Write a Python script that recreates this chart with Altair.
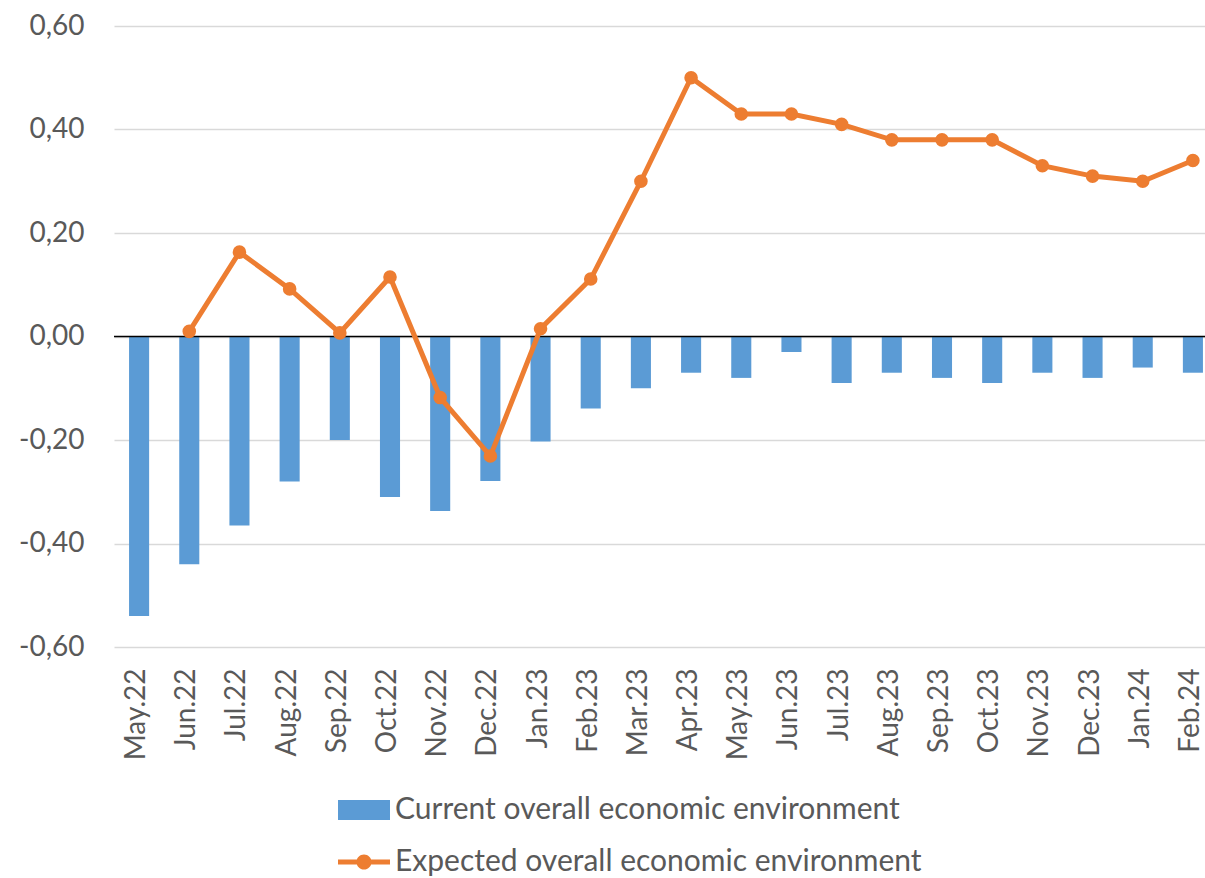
import altair as alt
import pandas as pd

months = ["May.22", "Jun.22", "Jul.22", "Aug.22", "Sep.22", "Oct.22", "Nov.22", "Dec.22",
          "Jan.23", "Feb.23", "Mar.23", "Apr.23", "May.23", "Jun.23", "Jul.23", "Aug.23",
          "Sep.23", "Oct.23", "Nov.23", "Dec.23", "Jan.24", "Feb.24"]
current = [-0.54, -0.44, -0.365, -0.28, -0.20, -0.31, -0.337, -0.279, -0.203, -0.139,
           -0.10, -0.07, -0.08, -0.03, -0.09, -0.07, -0.08, -0.09, -0.07, -0.08, -0.06, -0.07]
expected = [None, 0.01, 0.163, 0.092, 0.007, 0.115, -0.118, -0.231, 0.015, 0.111,
            0.30, 0.50, 0.43, 0.43, 0.41, 0.38, 0.38, 0.38, 0.33, 0.31, 0.30, 0.34]
series_names = ["Current overall economic environment", "Expected overall economic environment"]
y_ticks = [-0.6, -0.4, -0.2, 0.0, 0.2, 0.4, 0.6]

BLUE = "#5B9BD5"
ORANGE = "#ED7D31"
TEXT = "#595959"
FONT = "Lato"

bars_df = pd.DataFrame({"month": months, "value": current, "series": series_names[0]})
line_df = pd.DataFrame({"month": months, "value": expected, "series": series_names[1]}).dropna()
zero_df = pd.DataFrame({"value": [0.0]})

# the category band runs slightly past the right edge of the picture, as in the reference
x_scale = alt.Scale(domain=months, paddingInner=0.6, paddingOuter=0.3, range=[0, 1104])
x_enc = alt.X("month:N", sort=months, scale=x_scale,
              axis=alt.Axis(title=None, labelAngle=-90, labelFont=FONT, labelFontSize=28,
                            labelColor=TEXT, ticks=False, domain=False, labelPadding=21,
                            labelAlign="right", labelBaseline="middle", labelOffset=-2))
y_scale = alt.Scale(domain=[-0.6, 0.6], nice=False, zero=False)
y_axis = alt.Axis(title=None, values=y_ticks, ticks=False, domain=False,
                  labelFont=FONT, labelFontSize=28, labelColor=TEXT, labelPadding=30,
                  gridColor="#D9D9D9", gridWidth=1.5,
                  labelExpr="(datum.value < -0.0001 ? '-' : '') + replace(format(abs(datum.value), '.2f'), '.', ',')")

bar_sym = "M-1,-0.385L1,-0.385L1,0.385L-1,0.385Z"
line_sym = ("M-1,-0.095L1,-0.095L1,0.095L-1,0.095Z"
            "M-0.29,0A0.29,0.29,0,1,1,0.29,0A0.29,0.29,0,1,1,-0.29,0Z")

bars = alt.Chart(bars_df).mark_bar(color=BLUE).encode(
    x=x_enc,
    y=alt.Y("value:Q", scale=y_scale, axis=y_axis),
    color=alt.Color("series:N", scale=alt.Scale(domain=[series_names[0]], range=[BLUE]),
                    legend=alt.Legend(title=None, orient="none", legendX=224, legendY=758,
                                      symbolType=bar_sym, symbolSize=2704, symbolStrokeWidth=0,
                                      labelFont=FONT, labelFontSize=30, labelColor=TEXT,
                                      labelLimit=1000, labelOffset=5, padding=0)),
)

zero = alt.Chart(zero_df).mark_rule(color="black", strokeWidth=1.6).encode(
    y=alt.Y("value:Q", scale=y_scale)
)

line = alt.Chart(line_df).mark_line(strokeWidth=5, color=ORANGE).encode(
    x=alt.X("month:N", sort=months),
    y=alt.Y("value:Q", scale=y_scale),
    stroke=alt.Stroke("series:N", scale=alt.Scale(domain=[series_names[1]], range=[ORANGE]),
                      legend=alt.Legend(title=None, orient="none", legendX=224, legendY=810,
                                        symbolType=line_sym, symbolSize=2704,
                                        symbolFillColor=ORANGE, symbolStrokeWidth=0,
                                        labelFont=FONT, labelFontSize=30, labelColor=TEXT,
                                        labelLimit=1000, labelOffset=5, padding=0)),
)

points = alt.Chart(line_df).mark_circle(size=185, color=ORANGE, opacity=1).encode(
    x=alt.X("month:N", sort=months),
    y=alt.Y("value:Q", scale=y_scale),
)

chart = alt.layer(bars, zero, line, points).resolve_scale(
    color="independent", stroke="independent"
).properties(
    width=1091, height=621,
    autosize=alt.AutoSizeParams(type="none"),
    padding={"left": 114, "top": 26, "right": 0, "bottom": 231},
    background="white",
).configure_view(stroke=None)

chart.save("out.html", embed_options={"renderer": "svg", "actions": False})
